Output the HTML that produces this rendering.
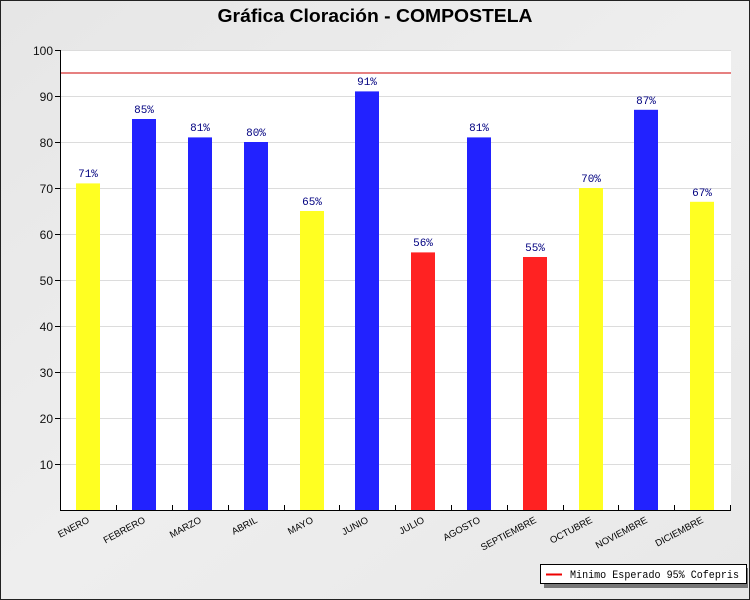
<!DOCTYPE html>
<html><head><meta charset="utf-8"><style>body{margin:0}svg{display:block}</style></head><body>
<svg width="750" height="600" xmlns="http://www.w3.org/2000/svg">
<defs><linearGradient id="bg" x1="0" y1="0" x2="1" y2="1"><stop offset="0" stop-color="#e6e6e6"/><stop offset="0.5" stop-color="#eeeeee"/><stop offset="1" stop-color="#e8e8e8"/></linearGradient></defs>
<rect x="0" y="0" width="750" height="600" fill="url(#bg)"/>
<rect x="0.5" y="0.5" width="749" height="599" fill="none" stroke="#222" stroke-width="1"/>
<text x="375" y="22" text-anchor="middle" font-family="Liberation Sans, sans-serif" font-weight="bold" font-size="18" textLength="315" lengthAdjust="spacingAndGlyphs" fill="#000">Gráfica Cloración - COMPOSTELA</text>
<rect x="61" y="50" width="670" height="460" fill="#fff"/>
<g stroke="#dcdcdc" stroke-width="1">
<line x1="61" x2="731" y1="464.5" y2="464.5"/><line x1="61" x2="731" y1="418.5" y2="418.5"/><line x1="61" x2="731" y1="372.5" y2="372.5"/><line x1="61" x2="731" y1="326.5" y2="326.5"/><line x1="61" x2="731" y1="280.5" y2="280.5"/><line x1="61" x2="731" y1="234.5" y2="234.5"/><line x1="61" x2="731" y1="188.5" y2="188.5"/><line x1="61" x2="731" y1="142.5" y2="142.5"/><line x1="61" x2="731" y1="96.5" y2="96.5"/><line x1="61" x2="731" y1="50.5" y2="50.5"/>
</g>
<line x1="61" x2="731" y1="73" y2="73" stroke="#cc0000" stroke-width="1"/>
<g>
<rect x="76" y="183.4" width="24" height="326.6" fill="#ffff22"/>
<rect x="132" y="119" width="24" height="391" fill="#2222ff"/>
<rect x="188" y="137.4" width="24" height="372.6" fill="#2222ff"/>
<rect x="244" y="142" width="24" height="368" fill="#2222ff"/>
<rect x="300" y="211" width="24" height="299" fill="#ffff22"/>
<rect x="355" y="91.4" width="24" height="418.6" fill="#2222ff"/>
<rect x="411" y="252.4" width="24" height="257.6" fill="#ff2222"/>
<rect x="467" y="137.4" width="24" height="372.6" fill="#2222ff"/>
<rect x="523" y="257" width="24" height="253" fill="#ff2222"/>
<rect x="579" y="188" width="24" height="322" fill="#ffff22"/>
<rect x="634" y="109.8" width="24" height="400.2" fill="#2222ff"/>
<rect x="690" y="201.8" width="24" height="308.2" fill="#ffff22"/>
</g>
<g font-family="Liberation Mono, monospace" font-size="11" fill="#000080" text-anchor="middle">
<text x="88" y="177">71%</text><text x="144" y="113">85%</text><text x="200" y="131">81%</text><text x="256" y="136">80%</text><text x="312" y="205">65%</text><text x="367" y="85">91%</text><text x="423" y="246">56%</text><text x="479" y="131">81%</text><text x="535" y="251">55%</text><text x="591" y="182">70%</text><text x="646" y="104">87%</text><text x="702" y="196">67%</text>
</g>
<g stroke="#000" stroke-width="1">
<line x1="60.5" y1="50" x2="60.5" y2="511"/>
<line x1="60" y1="510.5" x2="731" y2="510.5"/>
<line x1="55" x2="61" y1="50.5" y2="50.5"/><line x1="55" x2="61" y1="96.5" y2="96.5"/><line x1="55" x2="61" y1="142.5" y2="142.5"/><line x1="55" x2="61" y1="188.5" y2="188.5"/><line x1="55" x2="61" y1="234.5" y2="234.5"/><line x1="55" x2="61" y1="280.5" y2="280.5"/><line x1="55" x2="61" y1="326.5" y2="326.5"/><line x1="55" x2="61" y1="372.5" y2="372.5"/><line x1="55" x2="61" y1="418.5" y2="418.5"/><line x1="55" x2="61" y1="464.5" y2="464.5"/>
<line x1="116.5" x2="116.5" y1="505" y2="510"/><line x1="172.5" x2="172.5" y1="505" y2="510"/><line x1="228.5" x2="228.5" y1="505" y2="510"/><line x1="284.5" x2="284.5" y1="505" y2="510"/><line x1="339.5" x2="339.5" y1="505" y2="510"/><line x1="395.5" x2="395.5" y1="505" y2="510"/><line x1="451.5" x2="451.5" y1="505" y2="510"/><line x1="507.5" x2="507.5" y1="505" y2="510"/><line x1="563.5" x2="563.5" y1="505" y2="510"/><line x1="618.5" x2="618.5" y1="505" y2="510"/><line x1="674.5" x2="674.5" y1="505" y2="510"/><line x1="730.5" x2="730.5" y1="505" y2="510"/>
</g>
<g font-family="Liberation Sans, sans-serif" font-size="12" fill="#111" text-anchor="end">
<text x="53" y="55">100</text><text x="53" y="101">90</text><text x="53" y="147">80</text><text x="53" y="193">70</text><text x="53" y="239">60</text><text x="53" y="285">50</text><text x="53" y="331">40</text><text x="53" y="377">30</text><text x="53" y="423">20</text><text x="53" y="469">10</text>
</g>
<g font-family="Liberation Sans, sans-serif" font-size="9.5" fill="#000" text-anchor="end">
<text transform="translate(90,522) rotate(-28)">ENERO</text>
<text transform="translate(146,522) rotate(-28)">FEBRERO</text>
<text transform="translate(202,522) rotate(-28)">MARZO</text>
<text transform="translate(258,522) rotate(-28)">ABRIL</text>
<text transform="translate(314,522) rotate(-28)">MAYO</text>
<text transform="translate(369,522) rotate(-28)">JUNIO</text>
<text transform="translate(425,522) rotate(-28)">JULIO</text>
<text transform="translate(481,522) rotate(-28)">AGOSTO</text>
<text transform="translate(537,522) rotate(-28)">SEPTIEMBRE</text>
<text transform="translate(593,522) rotate(-28)">OCTUBRE</text>
<text transform="translate(648,522) rotate(-28)">NOVIEMBRE</text>
<text transform="translate(704,522) rotate(-28)">DICIEMBRE</text>
</g>
<rect x="544" y="568" width="204" height="20" fill="#777"/>
<rect x="540.5" y="564.5" width="206" height="19" fill="#fff" stroke="#000"/>
<line x1="546" x2="562" y1="574.5" y2="574.5" stroke="#ee0000" stroke-width="2"/>
<text x="570" y="578" font-family="Liberation Mono, monospace" font-size="11" textLength="169" lengthAdjust="spacingAndGlyphs" fill="#000">Minimo Esperado 95% Cofepris</text>
</svg>
</body></html>
